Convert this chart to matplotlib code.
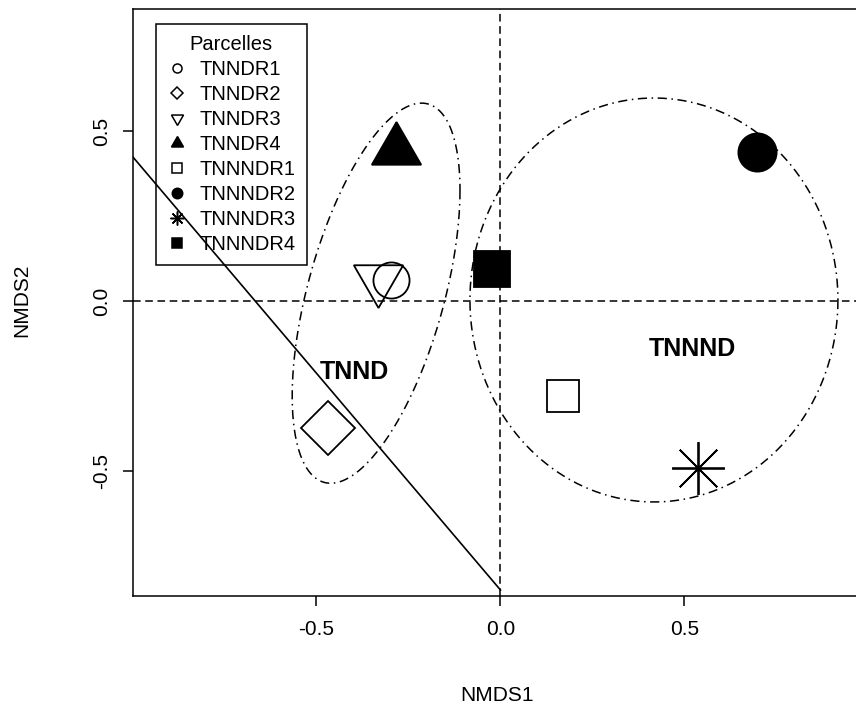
import numpy as np
import matplotlib
matplotlib.use("Agg")
import matplotlib.pyplot as plt
from matplotlib.lines import Line2D

plt.rcParams['font.family'] = ['Liberation Sans', 'DejaVu Sans']

# NMDS site scores
parcelles = ["TNNDR1", "TNNDR2", "TNNDR3", "TNNDR4",
             "TNNNDR1", "TNNNDR2", "TNNNDR3", "TNNNDR4"]
nmds1 = [-0.298, -0.468, -0.332, -0.283, 0.169, 0.697, 0.536, -0.023]
nmds2 = [0.062, -0.374, 0.065, 0.444, -0.279, 0.438, -0.492, 0.093]

# group ellipses: centre, half-range on each axis, phase between x and y (deg)
groupes = ["TNND", "TNNND"]
ell_cx = [-0.338, 0.417]
ell_cy = [0.023, 0.003]
ell_sx = [0.228, 0.500]
ell_sy = [0.559, 0.594]
ell_phase = [57.2, 90.0]
lab_x = [-0.397, 0.522]
lab_y = [-0.208, -0.140]

# fitted gradient line
vec_x = [0.0, -1.1]
vec_y = [-0.85, 0.5525]

xticks = [-0.5, 0.0, 0.5]
yticks = [-0.5, 0.0, 0.5]

# symbol per plot (R pch 1, 5, 6, 17, 0, 16, 8, 15)
markers = ['o', 'D', (3, 0, 180), (3, 0, 0), 's', 'o', (8, 2, 0), 's']
filled = [False, False, False, True, False, True, False, True]
sizes = [26, 27, 41, 41, 23.5, 27.5, 38, 26]
leg_sizes = [6.5, 6.5, 10, 10, 6.5, 7.5, 10, 7.5]

fig = plt.figure(figsize=(8.56, 7.15), dpi=100)
ax = fig.add_axes([133 / 856, 1 - 596 / 715, 724.7 / 856, 587 / 715])

ax.set_xlim(-0.9986, 0.9707)
ax.set_ylim(-0.8676, 0.8588)

# reference lines through the origin
ax.axhline(0, color='black', lw=1.1, ls=(0, (5, 3)), zorder=1)
ax.axvline(0, color='black', lw=1.1, ls=(0, (5, 3)), zorder=1)

# group ellipses and labels
t = np.linspace(0, 2 * np.pi, 500)
for g in range(len(groupes)):
    d = np.deg2rad(ell_phase[g])
    ex = ell_cx[g] + ell_sx[g] * np.cos(t)
    ey = ell_cy[g] + ell_sy[g] * np.cos(t + d)
    ax.plot(ex, ey, color='black', lw=1.1, ls=(0, (6, 3, 1, 3)), zorder=2)
    ax.text(lab_x[g], lab_y[g], groupes[g], fontsize=18, fontweight='bold',
            ha='center', va='center', zorder=4)

# drawn after the legend, so it crosses over it
ax.plot(vec_x, vec_y, color='black', lw=1.2, zorder=6)

# site symbols
for i in range(len(parcelles)):
    ax.plot(nmds1[i], nmds2[i], linestyle='none', marker=markers[i],
            markersize=sizes[i], markeredgecolor='black',
            markerfacecolor='black' if filled[i] else 'none',
            markeredgewidth=1.3, zorder=3)

handles = [Line2D([], [], linestyle='none', marker=markers[i],
                  markersize=leg_sizes[i], markeredgecolor='black',
                  markerfacecolor='black' if filled[i] else 'none',
                  markeredgewidth=1.1)
           for i in range(len(parcelles))]
leg = ax.legend(handles, parcelles, title="Parcelles", loc='upper left',
                bbox_to_anchor=(156 / 856, 1 - 24 / 715),
                bbox_transform=fig.transFigure, borderaxespad=0,
                frameon=True, fancybox=False, framealpha=1,
                edgecolor='black', fontsize=14.5, title_fontsize=14.5,
                handlelength=1.0, handletextpad=0.6, labelspacing=0.3,
                borderpad=0.55)
leg.get_frame().set_linewidth(1.1)
leg.set_zorder(5)

for s in ax.spines.values():
    s.set_linewidth(1.1)

ax.set_xticks(xticks)
ax.set_yticks(yticks)
ax.set_xticklabels([f"{v:.1f}" for v in xticks])
ax.set_yticklabels([f"{v:.1f}" for v in yticks])
ax.tick_params(direction='out', length=7.5, width=1.1, labelsize=15)
ax.tick_params(axis='x', pad=10)
ax.tick_params(axis='y', pad=8)
for lab in ax.get_yticklabels():
    lab.set_rotation(90)
    lab.set_va('center')
    lab.set_ha('right')

ax.set_xlabel("NMDS1", fontsize=15)
ax.set_ylabel("NMDS2", fontsize=15)
ax.xaxis.set_label_coords(0.502, -0.1687)
ax.yaxis.set_label_coords(-0.1532, 0.504)
ax.xaxis.label.set_va('center')
ax.yaxis.label.set_va('center')

fig.savefig("out.png", dpi=100)
